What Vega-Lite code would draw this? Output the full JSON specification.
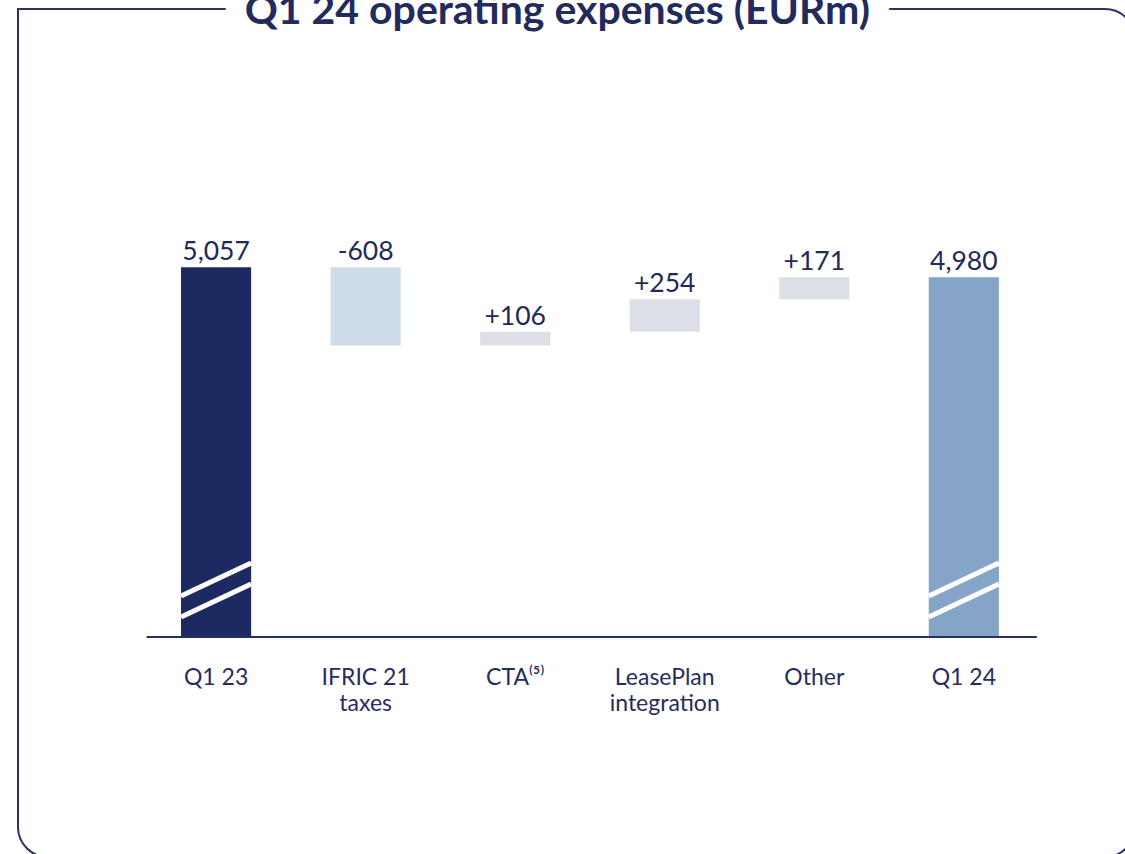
{
  "$schema": "https://vega.github.io/schema/vega-lite/v6.json",
  "width": 1117,
  "height": 848,
  "autosize": {"type": "none"},
  "padding": {"left": 18, "top": 9, "right": 0, "bottom": 0},
  "config": {
    "view": {"stroke": "#2b3166", "strokeWidth": 2, "cornerRadius": 30},
    "style": {"cell": {"cornerRadiusTopLeft": 0}},
    "font": "Lato"
  },
  "data": {
    "values": [
      {"cat": "Q1 23", "start": 0, "end": 5057, "amount": 5057, "kind": "total"},
      {"cat": "IFRIC 21|taxes", "start": 5057, "end": 4449, "amount": -608, "kind": "delta"},
      {"cat": "CTA⁽⁵⁾", "start": 4449, "end": 4555, "amount": 106, "kind": "delta"},
      {"cat": "LeasePlan|integration", "start": 4555, "end": 4809, "amount": 254, "kind": "delta"},
      {"cat": "Other", "start": 4809, "end": 4980, "amount": 171, "kind": "delta"},
      {"cat": "Q1 24", "start": 0, "end": 4980, "amount": 4980, "kind": "total"}
    ]
  },
  "transform": [
    {"calculate": "max(datum.start, datum.end)", "as": "top"},
    {"calculate": "datum.kind == 'total' ? format(datum.amount, ',') : (datum.amount > 0 ? '+' : '-') + abs(datum.amount)", "as": "label"}
  ],
  "encoding": {
    "x": {
      "field": "cat",
      "type": "nominal",
      "sort": null,
      "scale": {"paddingInner": 0.531, "paddingOuter": 1.004, "align": 0.545},
      "axis": {
        "title": null,
        "domain": false,
        "ticks": false,
        "grid": false,
        "labelAngle": 0,
        "offset": -220,
        "labelPadding": 29,
        "labelFontSize": 23,
        "labelColor": "#262c5e",
        "labelFont": "Lato",
        "labelBaseline": "top",
        "labelLineHeight": 26,
        "labelExpr": "split(datum.value, '|')"
      }
    }
  },
  "layer": [
    {
      "mark": {"type": "bar"},
      "encoding": {
        "y": {"field": "end", "type": "quantitative", "scale": {"domain": [2180, 7067], "range": [628, 0], "clamp": true, "zero": false, "nice": false}, "axis": null},
        "y2": {"field": "start"},
        "color": {
          "field": "cat",
          "type": "nominal",
          "scale": {
            "domain": ["Q1 23", "IFRIC 21|taxes", "CTA⁽⁵⁾", "LeasePlan|integration", "Other", "Q1 24"],
            "range": ["#1c2a61", "#cfdde9", "#dcdfe6", "#dcdfe6", "#dcdfe6", "#84a5c8"]
          },
          "legend": null
        }
      }
    },
    {
      "data": {"values": [{}]},
      "mark": {"type": "rule", "color": "#262c66", "strokeWidth": 2},
      "encoding": {
        "x": {"datum": "Q1 23", "type": "nominal", "bandPosition": -0.49},
        "x2": {"datum": "Q1 24", "bandPosition": 1.54},
        "y": {"datum": 2180, "type": "quantitative"}
      }
    },
    {
      "transform": [{"filter": "datum.kind == 'total'"}],
      "mark": {"type": "rule", "color": "white", "strokeWidth": 5},
      "encoding": {
        "x": {"field": "cat", "type": "nominal", "bandPosition": 0},
        "x2": {"field": "cat", "bandPosition": 1},
        "y": {"datum": 2499, "type": "quantitative"},
        "y2": {"datum": 2756}
      }
    },
    {
      "transform": [{"filter": "datum.kind == 'total'"}],
      "mark": {"type": "rule", "color": "white", "strokeWidth": 5},
      "encoding": {
        "x": {"field": "cat", "type": "nominal", "bandPosition": 0},
        "x2": {"field": "cat", "bandPosition": 1},
        "y": {"datum": 2336, "type": "quantitative"},
        "y2": {"datum": 2592}
      }
    },
    {
      "mark": {"type": "text", "baseline": "alphabetic", "dy": -7, "fontSize": 26.5, "color": "#1f2a5c", "font": "Lato"},
      "encoding": {
        "y": {"field": "top", "type": "quantitative"},
        "text": {"field": "label"}
      }
    },
    {
      "data": {"values": [{}]},
      "mark": {"type": "text", "baseline": "alphabetic", "dy": 15, "fontSize": 41, "fontWeight": "bold", "font": "Lato", "color": "white", "stroke": "white", "strokeWidth": 20},
      "encoding": {
        "x": {"datum": "CTA⁽⁵⁾", "type": "nominal", "bandPosition": 1.1},
        "y": {"datum": 7067, "type": "quantitative"},
        "text": {"value": "IQ1 24 operating expenses (EURm)I"}
      }
    },
    {
      "data": {"values": [{}]},
      "mark": {"type": "text", "baseline": "alphabetic", "dy": 15, "fontSize": 41, "fontWeight": "bold", "font": "Lato", "color": "#232a5c"},
      "encoding": {
        "x": {"datum": "CTA⁽⁵⁾", "type": "nominal", "bandPosition": 1.1},
        "y": {"datum": 7067, "type": "quantitative"},
        "text": {"value": "Q1 24 operating expenses (EURm)"}
      }
    }
  ]
}
